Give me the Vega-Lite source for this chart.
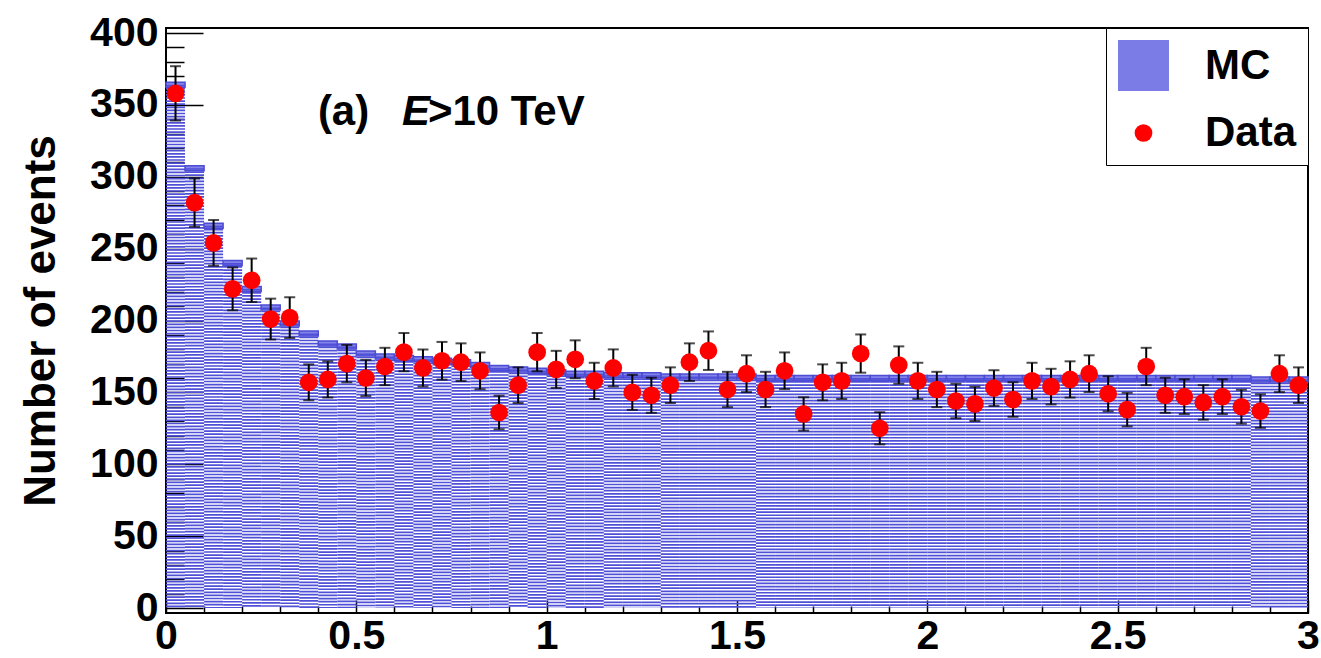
{
"$schema": "https://vega.github.io/schema/vega-lite/v6.json",
"width": 1142, "height": 585,
"autosize": {"type": "none"},
"padding": {"left": 166, "top": 28, "right": 13, "bottom": 45},
"background": "white",
"config": {
  "view": {"stroke": "black", "strokeWidth": 2},
  "font": "Liberation Sans",
  "axis": {"labelFont": "Liberation Sans", "labelFontWeight": "bold", "labelFontSize": 41, "labelColor": "black",
           "titleFont": "Liberation Sans", "titleFontWeight": "bold", "titleFontSize": 44, "titleColor": "black",
           "tickColor": "black", "tickWidth": 1.5, "domain": false, "grid": false, "labelFlush": false, "zindex": 1}
},
"data": {"values": [
{"lo":0,"hi":0.05,"c":0.025,"mc":364,"n":358,"nlo":339.1,"nhi":376.9},
{"lo":0.05,"hi":0.1,"c":0.075,"mc":306,"n":282,"nlo":265.2,"nhi":298.8},
{"lo":0.1,"hi":0.15,"c":0.125,"mc":266,"n":254,"nlo":238.1,"nhi":269.9},
{"lo":0.15,"hi":0.2,"c":0.175,"mc":240,"n":222,"nlo":207.1,"nhi":236.9},
{"lo":0.2,"hi":0.25,"c":0.225,"mc":222,"n":228,"nlo":212.9,"nhi":243.1},
{"lo":0.25,"hi":0.3,"c":0.275,"mc":209,"n":201,"nlo":186.8,"nhi":215.2},
{"lo":0.3,"hi":0.35,"c":0.325,"mc":198,"n":202,"nlo":187.8,"nhi":216.2},
{"lo":0.35,"hi":0.4,"c":0.375,"mc":191,"n":157,"nlo":144.5,"nhi":169.5},
{"lo":0.4,"hi":0.45,"c":0.425,"mc":184,"n":159,"nlo":146.4,"nhi":171.6},
{"lo":0.45,"hi":0.5,"c":0.475,"mc":182,"n":170,"nlo":157.0,"nhi":183.0},
{"lo":0.5,"hi":0.55,"c":0.525,"mc":177,"n":160,"nlo":147.4,"nhi":172.6},
{"lo":0.55,"hi":0.6,"c":0.575,"mc":175,"n":168,"nlo":155.0,"nhi":181.0},
{"lo":0.6,"hi":0.65,"c":0.625,"mc":174,"n":178,"nlo":164.7,"nhi":191.3},
{"lo":0.65,"hi":0.7,"c":0.675,"mc":173,"n":167,"nlo":154.1,"nhi":179.9},
{"lo":0.7,"hi":0.75,"c":0.725,"mc":172,"n":172,"nlo":158.9,"nhi":185.1},
{"lo":0.75,"hi":0.8,"c":0.775,"mc":171,"n":171,"nlo":157.9,"nhi":184.1},
{"lo":0.8,"hi":0.85,"c":0.825,"mc":169,"n":165,"nlo":152.2,"nhi":177.8},
{"lo":0.85,"hi":0.9,"c":0.875,"mc":167,"n":136,"nlo":124.3,"nhi":147.7},
{"lo":0.9,"hi":0.95,"c":0.925,"mc":166,"n":155,"nlo":142.6,"nhi":167.4},
{"lo":0.95,"hi":1.0,"c":0.975,"mc":165,"n":178,"nlo":164.7,"nhi":191.3},
{"lo":1.0,"hi":1.05,"c":1.025,"mc":164,"n":166,"nlo":153.1,"nhi":178.9},
{"lo":1.05,"hi":1.1,"c":1.075,"mc":163,"n":173,"nlo":159.8,"nhi":186.2},
{"lo":1.1,"hi":1.15,"c":1.125,"mc":163,"n":158,"nlo":145.4,"nhi":170.6},
{"lo":1.15,"hi":1.2,"c":1.175,"mc":162,"n":167,"nlo":154.1,"nhi":179.9},
{"lo":1.2,"hi":1.25,"c":1.225,"mc":162,"n":150,"nlo":137.8,"nhi":162.2},
{"lo":1.25,"hi":1.3,"c":1.275,"mc":162,"n":148,"nlo":135.8,"nhi":160.2},
{"lo":1.3,"hi":1.35,"c":1.325,"mc":161,"n":155,"nlo":142.6,"nhi":167.4},
{"lo":1.35,"hi":1.4,"c":1.375,"mc":161,"n":171,"nlo":157.9,"nhi":184.1},
{"lo":1.4,"hi":1.45,"c":1.425,"mc":161,"n":179,"nlo":165.6,"nhi":192.4},
{"lo":1.45,"hi":1.5,"c":1.475,"mc":161,"n":152,"nlo":139.7,"nhi":164.3},
{"lo":1.5,"hi":1.55,"c":1.525,"mc":161,"n":163,"nlo":150.2,"nhi":175.8},
{"lo":1.55,"hi":1.6,"c":1.575,"mc":160,"n":152,"nlo":139.7,"nhi":164.3},
{"lo":1.6,"hi":1.65,"c":1.625,"mc":160,"n":165,"nlo":152.2,"nhi":177.8},
{"lo":1.65,"hi":1.7,"c":1.675,"mc":160,"n":135,"nlo":123.4,"nhi":146.6},
{"lo":1.7,"hi":1.75,"c":1.725,"mc":160,"n":157,"nlo":144.5,"nhi":169.5},
{"lo":1.75,"hi":1.8,"c":1.775,"mc":160,"n":158,"nlo":145.4,"nhi":170.6},
{"lo":1.8,"hi":1.85,"c":1.825,"mc":160,"n":177,"nlo":163.7,"nhi":190.3},
{"lo":1.85,"hi":1.9,"c":1.875,"mc":160,"n":125,"nlo":113.8,"nhi":136.2},
{"lo":1.9,"hi":1.95,"c":1.925,"mc":160,"n":169,"nlo":156.0,"nhi":182.0},
{"lo":1.95,"hi":2.0,"c":1.975,"mc":160,"n":158,"nlo":145.4,"nhi":170.6},
{"lo":2.0,"hi":2.05,"c":2.025,"mc":160,"n":152,"nlo":139.7,"nhi":164.3},
{"lo":2.05,"hi":2.1,"c":2.075,"mc":160,"n":144,"nlo":132.0,"nhi":156.0},
{"lo":2.1,"hi":2.15,"c":2.125,"mc":160,"n":142,"nlo":130.1,"nhi":153.9},
{"lo":2.15,"hi":2.2,"c":2.175,"mc":160,"n":153,"nlo":140.6,"nhi":165.4},
{"lo":2.2,"hi":2.25,"c":2.225,"mc":160,"n":145,"nlo":133.0,"nhi":157.0},
{"lo":2.25,"hi":2.3,"c":2.275,"mc":160,"n":158,"nlo":145.4,"nhi":170.6},
{"lo":2.3,"hi":2.35,"c":2.325,"mc":160,"n":154,"nlo":141.6,"nhi":166.4},
{"lo":2.35,"hi":2.4,"c":2.375,"mc":160,"n":159,"nlo":146.4,"nhi":171.6},
{"lo":2.4,"hi":2.45,"c":2.425,"mc":160,"n":163,"nlo":150.2,"nhi":175.8},
{"lo":2.45,"hi":2.5,"c":2.475,"mc":160,"n":149,"nlo":136.8,"nhi":161.2},
{"lo":2.5,"hi":2.55,"c":2.525,"mc":160,"n":138,"nlo":126.3,"nhi":149.7},
{"lo":2.55,"hi":2.6,"c":2.575,"mc":160,"n":168,"nlo":155.0,"nhi":181.0},
{"lo":2.6,"hi":2.65,"c":2.625,"mc":160,"n":148,"nlo":135.8,"nhi":160.2},
{"lo":2.65,"hi":2.7,"c":2.675,"mc":160,"n":147,"nlo":134.9,"nhi":159.1},
{"lo":2.7,"hi":2.75,"c":2.725,"mc":160,"n":143,"nlo":131.0,"nhi":155.0},
{"lo":2.75,"hi":2.8,"c":2.775,"mc":160,"n":147,"nlo":134.9,"nhi":159.1},
{"lo":2.8,"hi":2.85,"c":2.825,"mc":160,"n":140,"nlo":128.2,"nhi":151.8},
{"lo":2.85,"hi":2.9,"c":2.875,"mc":159,"n":137,"nlo":125.3,"nhi":148.7},
{"lo":2.9,"hi":2.95,"c":2.925,"mc":159,"n":163,"nlo":150.2,"nhi":175.8},
{"lo":2.95,"hi":3.0,"c":2.975,"mc":159,"n":155,"nlo":142.6,"nhi":167.4}
]},
"resolve": {"axis": {"x": "independent", "y": "independent"}},
"layer": [
  {"mark": {"type": "bar", "fill": "#8282ea"},
   "encoding": {
     "x": {"field": "lo", "type": "quantitative", "scale": {"domain": [0, 3], "nice": false, "zero": false},
           "axis": {"orient": "bottom", "values": [0, 0.5, 1, 1.5, 2, 2.5, 3], "format": ".1~f",
                    "tickSize": -13, "labelPadding": 16, "title": null}},
     "x2": {"field": "hi"},
     "y": {"field": "mc", "type": "quantitative", "title": "Number of events", "scale": {"domain": [0, 400], "nice": false},
           "axis": {"orient": "left", "values": [0, 50, 100, 150, 200, 250, 300, 350, 400], "format": "d",
                    "tickSize": -37, "labelPadding": 45, "title": "Number of events", "titlePadding": 26}}
   }},
  {"mark": {"type": "rule", "color": "#4f4fd8", "strokeWidth": 19.03, "strokeDash": [1.7, 1.4], "strokeCap": "butt"},
   "encoding": {
     "x": {"field": "c", "type": "quantitative",
           "axis": {"orient": "bottom", "values": [0.1,0.2,0.3,0.4,0.6,0.7,0.8,0.9,1.1,1.2,1.3,1.4,1.6,1.7,1.8,1.9,2.1,2.2,2.3,2.4,2.6,2.7,2.8,2.9],
                    "tickSize": -7, "labels": false, "title": null}},
     "y": {"field": "mc", "type": "quantitative",
           "axis": {"orient": "left", "values": [10,20,30,40,60,70,80,90,110,120,130,140,160,170,180,190,210,220,230,240,260,270,280,290,310,320,330,340,360,370,380,390],
                    "tickSize": -18, "labels": false, "title": null}},
     "y2": {"datum": 0}
   }},
  {"mark": {"type": "bar", "fillOpacity": 0, "stroke": "#4c4cd4", "strokeWidth": 1.5},
   "encoding": {
     "x": {"field": "lo", "type": "quantitative", "axis": null},
     "x2": {"field": "hi"},
     "y": {"field": "mc", "type": "quantitative", "axis": null}
   }},
  {"mark": {"type": "errorbar", "ticks": true, "size": 11, "thickness": 2, "color": "black"},
   "encoding": {
     "x": {"field": "c", "type": "quantitative", "axis": null},
     "y": {"field": "nlo", "type": "quantitative", "axis": null},
     "y2": {"field": "nhi"}
   }},
  {"mark": {"type": "point", "filled": true, "opacity": 1},
   "encoding": {
     "x": {"field": "c", "type": "quantitative", "axis": null},
     "y": {"field": "n", "type": "quantitative", "axis": null},
     "color": {"datum": "Data\u00a0\u00a0\u00a0\u00a0\u00a0\u00a0\u00a0\u00a0", "type": "ordinal",
       "scale": {"domain": ["MC\u00a0\u00a0\u00a0\u00a0\u00a0\u00a0\u00a0\u00a0", "Data\u00a0\u00a0\u00a0\u00a0\u00a0\u00a0\u00a0\u00a0"], "range": ["#7c7ce6", "#ff0000"]},
       "legend": {"title": null, "orient": "top-right", "offset": 0, "padding": 11,
         "strokeColor": "black", "fillColor": "white", "symbolOpacity": 1,
         "labelFont": "Liberation Sans", "labelFontWeight": "bold", "labelFontSize": 42, "labelColor": "black",
         "labelOffset": 35, "rowPadding": 18, "labelLimit": 600}},
     "shape": {"datum": "Data\u00a0\u00a0\u00a0\u00a0\u00a0\u00a0\u00a0\u00a0", "type": "ordinal",
       "scale": {"domain": ["MC\u00a0\u00a0\u00a0\u00a0\u00a0\u00a0\u00a0\u00a0", "Data\u00a0\u00a0\u00a0\u00a0\u00a0\u00a0\u00a0\u00a0"], "range": ["square", "circle"]},
       "legend": {"title": null, "orient": "top-right", "offset": 0, "padding": 11,
         "strokeColor": "black", "fillColor": "white", "symbolOpacity": 1,
         "labelFont": "Liberation Sans", "labelFontWeight": "bold", "labelFontSize": 42, "labelColor": "black",
         "labelOffset": 35, "rowPadding": 18, "labelLimit": 600}},
     "size": {"datum": "Data\u00a0\u00a0\u00a0\u00a0\u00a0\u00a0\u00a0\u00a0", "type": "ordinal",
       "scale": {"domain": ["MC\u00a0\u00a0\u00a0\u00a0\u00a0\u00a0\u00a0\u00a0", "Data\u00a0\u00a0\u00a0\u00a0\u00a0\u00a0\u00a0\u00a0"], "range": [2600, 314]},
       "legend": {"title": null, "orient": "top-right", "offset": 0, "padding": 11,
         "strokeColor": "black", "fillColor": "white", "symbolOpacity": 1,
         "labelFont": "Liberation Sans", "labelFontWeight": "bold", "labelFontSize": 42, "labelColor": "black",
         "labelOffset": 35, "rowPadding": 18, "labelLimit": 600}}
   }},
  {"data": {"values": [{}]},
   "mark": {"type": "text", "font": "Liberation Sans", "fontWeight": "bold", "fontSize": 42, "align": "left", "baseline": "alphabetic", "color": "black"},
   "encoding": {"x": {"datum": 0.399, "type": "quantitative", "axis": null}, "y": {"datum": 336, "type": "quantitative", "axis": null}, "text": {"value": "(a)"}}},
  {"data": {"values": [{}]},
   "mark": {"type": "text", "font": "Liberation Sans", "fontWeight": "bold", "fontStyle": "italic", "fontSize": 42, "align": "left", "baseline": "alphabetic", "color": "black"},
   "encoding": {"x": {"datum": 0.62, "type": "quantitative", "axis": null}, "y": {"datum": 336, "type": "quantitative", "axis": null}, "text": {"value": "E"}}},
  {"data": {"values": [{}]},
   "mark": {"type": "text", "font": "Liberation Sans", "fontWeight": "bold", "fontSize": 42, "align": "left", "baseline": "alphabetic", "color": "black"},
   "encoding": {"x": {"datum": 0.688, "type": "quantitative", "axis": null}, "y": {"datum": 336, "type": "quantitative", "axis": null}, "text": {"value": ">10 TeV"}}}
]
}
